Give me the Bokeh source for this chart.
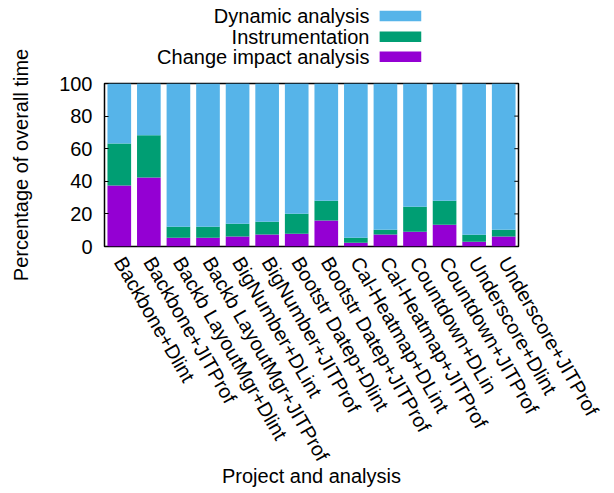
import math
from bokeh.plotting import figure
from bokeh.layouts import column, row
from bokeh.models import ColumnDataSource, FactorRange, Range1d, FixedTicker
from bokeh.core.properties import value
from bokeh.embed import file_html
from bokeh.resources import INLINE

# ---- data ----
projects = ["Backbone+Dlint", "Backbone+JITProf", "Backb LayoutMgr+Dlint", "Backb LayoutMgr+JITProf",
            "BigNumber+DLint", "BigNumber+JITProf", "Bootstr Datep+Dlint", "Bootstr Datep+JITProf",
            "Cal-Heatmap+DLint", "Cal-Heatmap+JITProf", "Countdown+DLin", "Countdown+JITProf",
            "Underscore+Dlint", "Underscore+JITProf"]
change_impact = [37.4, 42.3, 5.3, 5.3, 6.2, 7.4, 7.8, 16.0, 2.3, 7.4, 9.0, 13.3, 2.9, 6.2]
instrumentation = [25.8, 25.9, 6.8, 6.8, 7.8, 7.8, 12.3, 12.1, 3.0, 2.9, 15.4, 14.8, 4.3, 4.1]
dynamic = [round(100 - c - i, 1) for c, i in zip(change_impact, instrumentation)]
series = ["Change impact analysis", "Instrumentation", "Dynamic analysis"]
colors = ["#9400D3", "#009E73", "#56B4E9"]
y_ticks = [0, 20, 40, 60, 80, 100]
y_title = "Percentage of overall time"
x_title = "Project and analysis"

FONT = "Liberation Sans"
FS = "20px"

source = ColumnDataSource(data=dict(project=projects,
                                    **{"Change impact analysis": change_impact,
                                       "Instrumentation": instrumentation,
                                       "Dynamic analysis": dynamic}))

LEFT = 40       # width of the strip holding the vertical axis title
LEG_H = 70      # height of the legend strip
TOTAL_H = 491

def bare(fig):
    fig.outline_line_color = None
    fig.grid.visible = False
    return fig

# ---- vertical axis title strip ----
ylab = bare(figure(width=LEFT, height=TOTAL_H, x_range=Range1d(0, LEFT), y_range=Range1d(TOTAL_H, 0),
                   min_border=0, x_axis_location=None, y_axis_location=None,
                   output_backend="svg", toolbar_location=None))
ylab.text(x=[20], y=[LEG_H + 13 + 81.5], text=[y_title], angle=math.pi / 2,
          text_align="center", text_baseline="middle",
          text_font=value(FONT), text_font_size=FS, text_color="black")

# ---- legend strip (gnuplot style: text right-aligned, colour sample on the right) ----
# x measured in page pixels (strip starts at LEFT)
LEG_W = 570
leg = bare(figure(width=LEG_W, height=LEG_H, x_range=Range1d(LEFT, LEFT + LEG_W), y_range=Range1d(LEG_H, 0),
                  min_border=0, x_axis_location=None, y_axis_location=None,
                  output_backend="svg", toolbar_location=None))
leg_names = series[::-1]
leg_cols = colors[::-1]
leg_y = [15.5, 36.3, 56.3]
leg.text(x=[403] * 3, y=leg_y, text=leg_names, text_align="right", text_baseline="middle",
         text_font=value(FONT), text_font_size=FS, text_color="black")
leg.quad(left=[417] * 3, right=[474] * 3, top=[v - 5.3 for v in leg_y],
         bottom=[v + 5.3 for v in leg_y], color=leg_cols, line_color=None)

# ---- main chart ----
p = figure(x_range=FactorRange(*projects, range_padding=0), y_range=Range1d(0, 100),
           frame_width=414, frame_height=163,
           min_border_left=104 - LEFT, min_border_top=13, min_border_right=90, min_border_bottom=10,
           output_backend="svg", toolbar_location=None)

p.vbar_stack(series, x="project", width=0.8, color=colors, source=source, line_color=None)

# mirrored tick marks on the right border
p.segment(x0=[(projects[-1], 0.5)] * len(y_ticks), x1=[(projects[-1], 0.36)] * len(y_ticks),
          y0=y_ticks, y1=y_ticks, line_color="black", line_width=1)

p.grid.visible = False
p.background_fill_color = "white"
p.outline_line_color = "black"
p.outline_line_width = 1.5
p.outline_line_alpha = 1.0

ya = p.yaxis[0]
ya.ticker = FixedTicker(ticks=y_ticks)
ya.major_label_text_font = FONT
ya.major_label_text_font_size = FS
ya.major_label_text_color = "black"
ya.major_label_standoff = 12
ya.major_tick_in = 4
ya.major_tick_out = 0
ya.minor_tick_line_color = None
ya.axis_line_color = None
ya.major_tick_line_color = "black"

xa = p.xaxis[0]
xa.axis_label = x_title
xa.axis_label_text_font = FONT
xa.axis_label_text_font_size = FS
xa.axis_label_text_font_style = "normal"
xa.axis_label_text_color = "black"
xa.axis_label_standoff = -8
xa.major_label_text_font = FONT
xa.major_label_text_font_size = FS
xa.major_label_text_color = "black"
xa.major_label_orientation = -math.pi / 3
xa.major_label_standoff = 6
xa.major_tick_line_color = None
xa.axis_line_color = None

layout = row(ylab, column(leg, p, spacing=0), spacing=0)
open("out.html", "w").write(file_html(layout, INLINE))
